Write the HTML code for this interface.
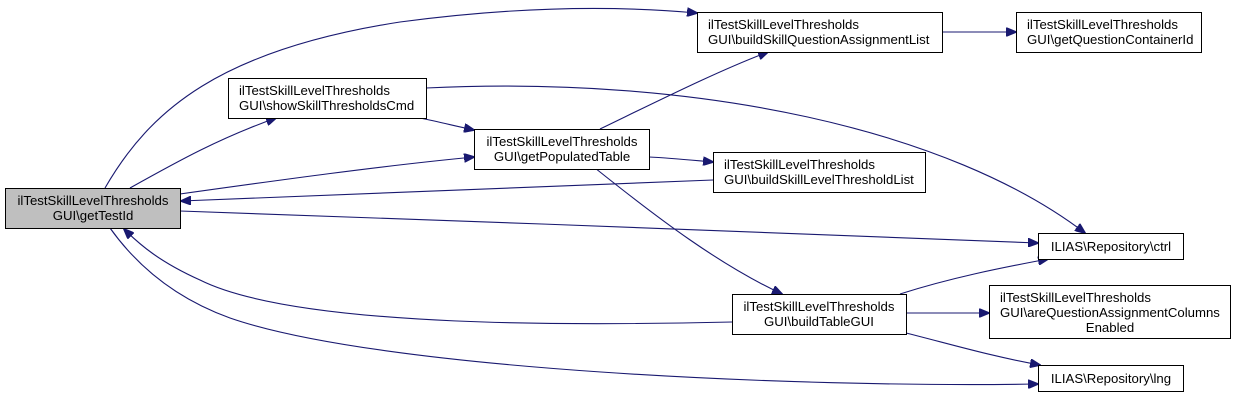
<!DOCTYPE html>
<html><head><meta charset="utf-8"><style>
html,body{margin:0;padding:0;background:#fff;}
svg text{font-family:"Liberation Sans",Arial,sans-serif;font-size:13.2px;fill:#000;}
</style></head><body>
<svg width="1236" height="407" viewBox="0 0 1236 407" xmlns="http://www.w3.org/2000/svg">
<defs>
<marker id="a" markerWidth="11" markerHeight="9" refX="10" refY="4.5" orient="auto" markerUnits="userSpaceOnUse">
<path d="M0,0 L11,4.5 L0,9 Z" fill="#191970" stroke="#191970"/>
</marker>
</defs>
<g fill="none" stroke="#191970" stroke-width="1.1">
<path d="M105,188 C150,110 220,50 400,22 C520,6 620,6 697,13" marker-end="url(#a)"/>
<path d="M130,188 C180,160 220,138 276,118" marker-end="url(#a)"/>
<path d="M180,194 C280,180 380,166 474,157" marker-end="url(#a)"/>
<path d="M713,180 C520,186 350,194 181,201" marker-end="url(#a)"/>
<path d="M180,211 C450,220 800,234 1038,243" marker-end="url(#a)"/>
<path d="M732,322 C600,325 300,330 200,280 C160,262 140,245 124,229" marker-end="url(#a)"/>
<path d="M110,228 C140,270 180,300 230,318 C380,370 800,388 1038,384" marker-end="url(#a)"/>
<path d="M420,118 C440,122 455,126 474,130" marker-end="url(#a)"/>
<path d="M426,88 C700,75 950,130 1085,233" marker-end="url(#a)"/>
<path d="M600,129 C660,100 720,70 768,52" marker-end="url(#a)"/>
<path d="M649,157 C670,158 690,160 713,162" marker-end="url(#a)"/>
<path d="M595,168 C660,220 720,265 782,294" marker-end="url(#a)"/>
<path d="M942,32 L1016,32" marker-end="url(#a)"/>
<path d="M900,294 C950,278 1000,268 1048,259" marker-end="url(#a)"/>
<path d="M906,313 L989,313" marker-end="url(#a)"/>
<path d="M906,333 C950,344 990,356 1040,365" marker-end="url(#a)"/>
</g>
<g stroke="#000" stroke-width="1">
<rect x="5.5" y="188.5" width="175" height="40" fill="#bfbfbf"/>
<rect x="228.5" y="78.5" width="198" height="40" fill="#fff"/>
<rect x="474.5" y="129.5" width="175" height="40" fill="#fff"/>
<rect x="697.5" y="12.5" width="245" height="40" fill="#fff"/>
<rect x="1016.5" y="12.5" width="185" height="40" fill="#fff"/>
<rect x="713.5" y="152.5" width="212" height="40" fill="#fff"/>
<rect x="1038.5" y="233.5" width="145" height="26" fill="#fff"/>
<rect x="732.5" y="294.5" width="174" height="40" fill="#fff"/>
<rect x="989.5" y="285.5" width="241" height="53" fill="#fff"/>
<rect x="1038.5" y="365.5" width="145" height="26" fill="#fff"/>
</g>
<text x="93" y="205" text-anchor="middle">ilTestSkillLevelThresholds</text>
<text x="93" y="220" text-anchor="middle">GUI\getTestId</text>
<text x="239" y="95">ilTestSkillLevelThresholds</text>
<text x="239" y="110">GUI\showSkillThresholdsCmd</text>
<text x="562" y="146" text-anchor="middle">ilTestSkillLevelThresholds</text>
<text x="562" y="161" text-anchor="middle">GUI\getPopulatedTable</text>
<text x="708" y="29">ilTestSkillLevelThresholds</text>
<text x="708" y="44">GUI\buildSkillQuestionAssignmentList</text>
<text x="1027" y="29">ilTestSkillLevelThresholds</text>
<text x="1027" y="44">GUI\getQuestionContainerId</text>
<text x="724" y="169">ilTestSkillLevelThresholds</text>
<text x="724" y="184">GUI\buildSkillLevelThresholdList</text>
<text x="1111" y="251" text-anchor="middle">ILIAS\Repository\ctrl</text>
<text x="819" y="311" text-anchor="middle">ilTestSkillLevelThresholds</text>
<text x="819" y="326" text-anchor="middle">GUI\buildTableGUI</text>
<text x="1000" y="302">ilTestSkillLevelThresholds</text>
<text x="1000" y="317">GUI\areQuestionAssignmentColumns</text>
<text x="1110" y="332" text-anchor="middle">Enabled</text>
<text x="1111" y="383" text-anchor="middle">ILIAS\Repository\lng</text>
</svg>
</body></html>
